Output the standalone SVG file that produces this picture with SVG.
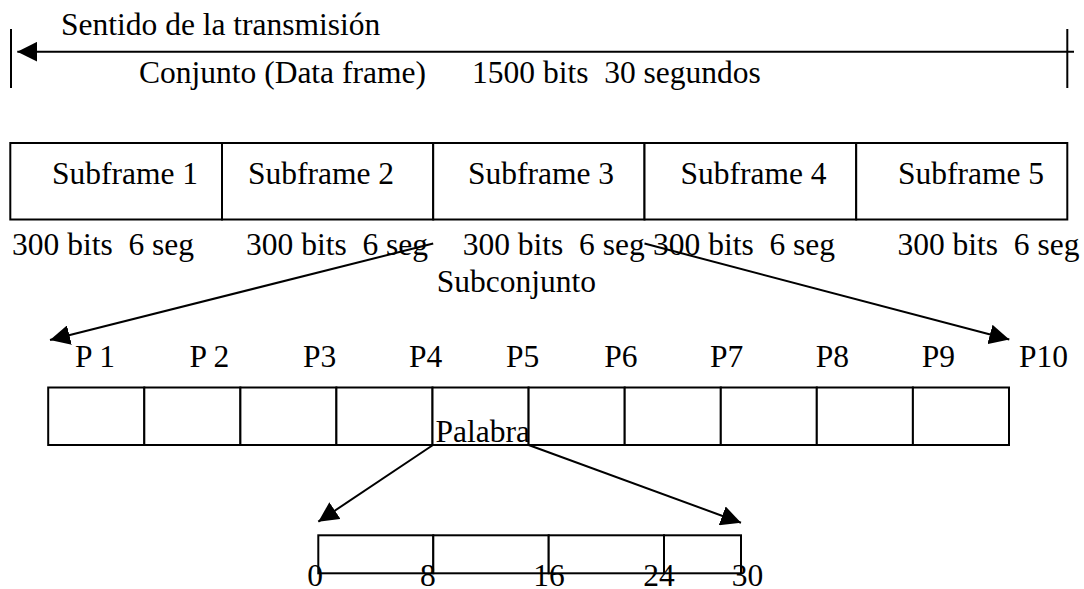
<svg xmlns="http://www.w3.org/2000/svg" width="1084" height="589" viewBox="0 0 1084 589">
<style>
text{font-family:"Liberation Serif","Times New Roman",serif;font-size:31.5px;fill:#000}
.box{fill:#fff;stroke:#000;stroke-width:2}
.ln{stroke:#000;stroke-width:2;fill:none}
</style>
<defs>
<marker id="ah" markerUnits="userSpaceOnUse" markerWidth="20" markerHeight="20" viewBox="0 0 20 20" refX="20" refY="10" orient="auto">
<path d="M0,0 L20,10 L0,20 Z" fill="#000"/>
</marker>
</defs>
<rect width="1084" height="589" fill="#fff"/>
<g id="connectors">
<line class="ln" x1="11" y1="29" x2="11" y2="88"/>
<line class="ln" x1="1067.3" y1="29" x2="1067.3" y2="88"/>
<line class="ln" x1="1074" y1="51.7" x2="17.3" y2="51.7" marker-end="url(#ah)"/>
<line class="ln" x1="433.2" y1="243.5" x2="50" y2="340" marker-end="url(#ah)"/>
<line class="ln" x1="644.5" y1="243.5" x2="1009.3" y2="339.5" marker-end="url(#ah)"/>
<line class="ln" x1="433" y1="445" x2="318.3" y2="521.7" marker-end="url(#ah)"/>
<line class="ln" x1="528.6" y1="445" x2="741" y2="522.7" marker-end="url(#ah)"/>
</g>
<g id="titles">
<text x="61" y="35">Sentido de la transmisión</text>
<text x="139" y="83">Conjunto (Data frame)</text>
<text x="472" y="83" xml:space="preserve">1500 bits  30 segundos</text>
</g>
<g id="subframe1"><rect class="box" x="10.3" y="143" width="211.7" height="76.5"/><text x="52" y="184">Subframe 1</text></g>
<g id="subframe2"><rect class="box" x="222" y="143" width="211.2" height="76.5"/><text x="248" y="184">Subframe 2</text></g>
<g id="subframe3"><rect class="box" x="433.2" y="143" width="211.3" height="76.5"/><text x="468" y="184">Subframe 3</text></g>
<g id="subframe4"><rect class="box" x="644.5" y="143" width="211.7" height="76.5"/><text x="680.5" y="184">Subframe 4</text></g>
<g id="subframe5"><rect class="box" x="856.2" y="143" width="211.1" height="76.5"/><text x="898" y="184">Subframe 5</text></g>
<g id="subframe-labels">
<text x="12" y="255" xml:space="preserve">300 bits  6 seg</text>
<text x="246" y="255" xml:space="preserve">300 bits  6 seg</text>
<text x="462.7" y="255" xml:space="preserve">300 bits  6 seg</text>
<text x="653" y="255" xml:space="preserve">300 bits  6 seg</text>
<text x="897.4" y="255" xml:space="preserve">300 bits  6 seg</text>
<text x="436.7" y="292">Subconjunto</text>
</g>
<g id="word-labels">
<text x="75" y="367">P 1</text>
<text x="189.4" y="367">P 2</text>
<text x="303" y="367">P3</text>
<text x="409" y="367">P4</text>
<text x="506" y="367">P5</text>
<text x="604.2" y="367">P6</text>
<text x="710" y="367">P7</text>
<text x="815.8" y="367">P8</text>
<text x="921.7" y="367">P9</text>
<text x="1019" y="367">P10</text>
</g>
<g id="p1"><rect class="box" x="48.2" y="387.5" width="96.1" height="57.5"/></g>
<g id="p2"><rect class="box" x="144.3" y="387.5" width="96.1" height="57.5"/></g>
<g id="p3"><rect class="box" x="240.4" y="387.5" width="96" height="57.5"/></g>
<g id="p4"><rect class="box" x="336.4" y="387.5" width="96.1" height="57.5"/></g>
<g id="p5"><rect class="box" x="432.5" y="387.5" width="96.1" height="57.5"/><text x="435.6" y="442">Palabra</text></g>
<g id="p6"><rect class="box" x="528.6" y="387.5" width="96.1" height="57.5"/></g>
<g id="p7"><rect class="box" x="624.7" y="387.5" width="96.1" height="57.5"/></g>
<g id="p8"><rect class="box" x="720.8" y="387.5" width="96" height="57.5"/></g>
<g id="p9"><rect class="box" x="816.8" y="387.5" width="96.1" height="57.5"/></g>
<g id="p10"><rect class="box" x="912.9" y="387.5" width="96.1" height="57.5"/></g>
<g id="word-bits">
<rect class="box" x="318.3" y="535.3" width="115" height="38"/>
<rect class="box" x="433.3" y="535.3" width="115.4" height="38"/>
<rect class="box" x="548.7" y="535.3" width="115.3" height="38"/>
<rect class="box" x="664" y="535.3" width="77" height="38"/>
<text x="307.3" y="585.5">0</text>
<text x="420" y="585.5">8</text>
<text x="533.3" y="585.5">16</text>
<text x="643.3" y="585.5">24</text>
<text x="731.7" y="585.5">30</text>
</g>
</svg>
